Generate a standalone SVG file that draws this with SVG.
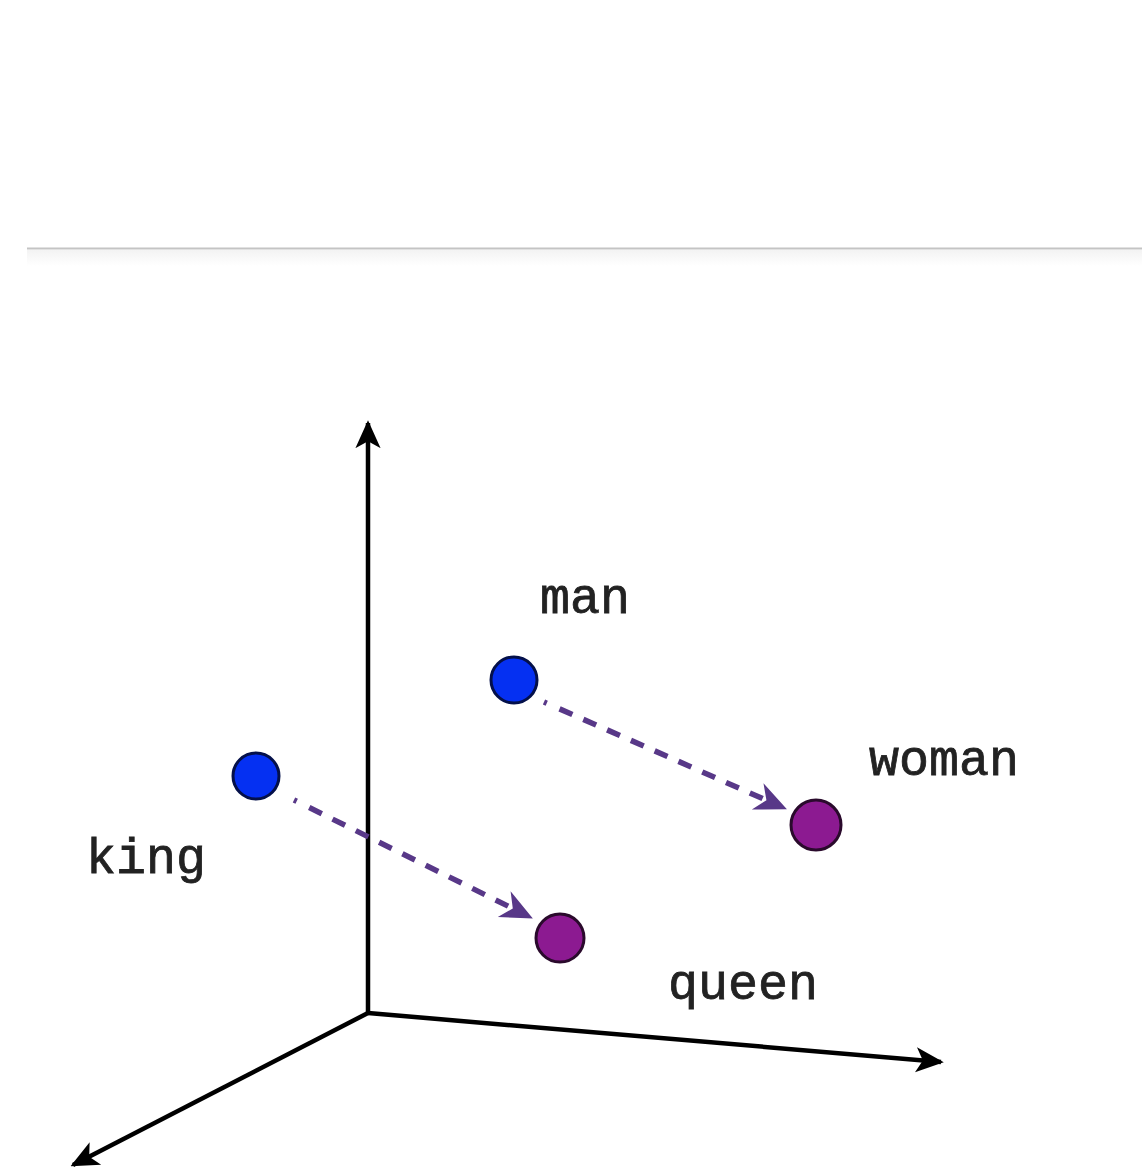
<svg xmlns="http://www.w3.org/2000/svg" width="1142" height="1171" viewBox="0 0 1142 1171">
<defs>
<linearGradient id="band" x1="0" y1="0" x2="0" y2="1">
<stop offset="0" stop-color="#f3f3f3"/>
<stop offset="1" stop-color="#ffffff"/>
</linearGradient>
<marker id="ahM" viewBox="0 0 20 20" refX="18" refY="10" markerWidth="28" markerHeight="28" markerUnits="userSpaceOnUse" orient="auto">
<path d="M0,1 L20,10 L0,19 L5,10 Z" fill="#000"/>
</marker>
<marker id="ahV" viewBox="0 0 20 20" refX="18" refY="10" markerWidth="32" markerHeight="32" markerUnits="userSpaceOnUse" orient="auto">
<path d="M0,1 L20,10 L0,19 L6,10 Z" fill="#583888"/>
</marker>
<style>
.axis{stroke:#000;stroke-width:4.5;fill:none}
.vec{stroke:#583888;stroke-width:5.5;fill:none}
.blue{fill:#0530f2;stroke:#04104a;stroke-width:3}
.purple{fill:#8c1a91;stroke:#2a0a2c;stroke-width:3}
.lbl{font-family:"Liberation Mono","Courier New",monospace;font-size:50px;fill:#222;stroke:#222;stroke-width:0.8}
</style>
</defs>
<rect width="1142" height="1171" fill="#fff"/>
<rect x="27" y="250" width="1115" height="16" fill="url(#band)"/>
<line x1="27" y1="248.5" x2="1142" y2="248.5" stroke="#c4c4c4" stroke-width="2"/>
<g id="connectors">
<line class="axis" x1="368" y1="1015" x2="368" y2="423" marker-end="url(#ahM)"/>
<line class="axis" x1="368" y1="1013" x2="941" y2="1062" marker-end="url(#ahM)"/>
<line class="axis" x1="368" y1="1013" x2="73" y2="1165" marker-end="url(#ahM)"/>
<path class="vec" d="M294,800 L530,917" stroke-dasharray="3 14 14 12 14 12 14 12 14 12 14 12 14 12 14 12 14 12 14 12" marker-end="url(#ahV)"/>
<path class="vec" d="M544,702 L784,808" stroke-dasharray="3 14 14 12 14 12 14 12 14 12 14 12 14 12 14 12 14 12 14 12" marker-end="url(#ahV)"/>
</g>
<g id="node-king">
<circle class="blue" cx="256" cy="776" r="23"/>
<text class="lbl" x="86" y="873">king</text>
</g>
<g id="node-man">
<circle class="blue" cx="514" cy="680" r="23"/>
<text class="lbl" x="540" y="613">man</text>
</g>
<g id="node-woman">
<circle class="purple" cx="816" cy="825" r="25"/>
<text class="lbl" x="869" y="775">woman</text>
</g>
<g id="node-queen">
<circle class="purple" cx="560" cy="938" r="24"/>
<text class="lbl" x="668" y="999">queen</text>
</g>
</svg>
